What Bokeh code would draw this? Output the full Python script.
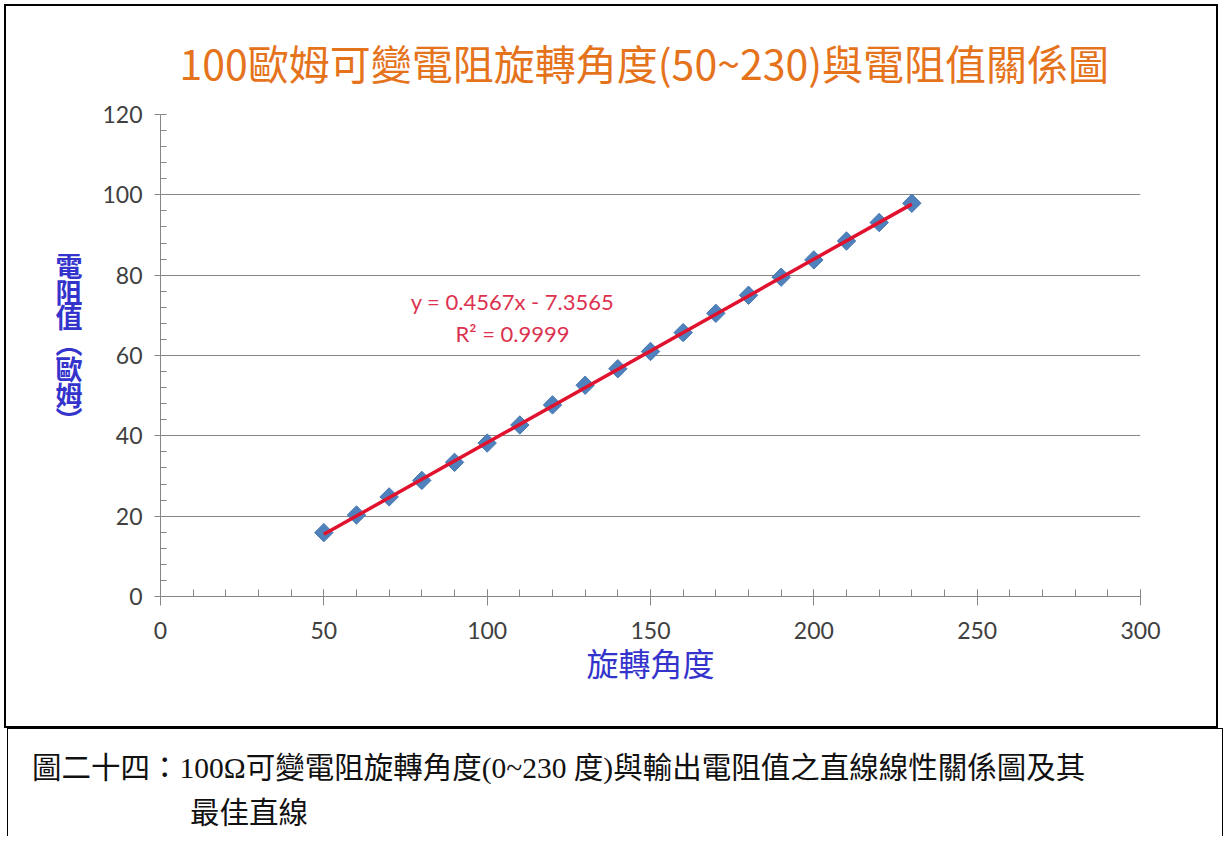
from bokeh.plotting import figure
from bokeh.models import Range1d, Label, SingleIntervalTicker, Div
from bokeh.layouts import column
from bokeh.embed import file_html
from bokeh.resources import INLINE
import numpy as np

# ---------------- data ----------------
title_text = "100歐姆可變電阻旋轉角度(50~230)與電阻值關係圖"
x_label = "旋轉角度"
y_label_chars = ["電", "阻", "值", "︵", "歐", "姆", "︶"]
angle = [50, 60, 70, 80, 90, 100, 110, 120, 130, 140,
         150, 160, 170, 180, 190, 200, 210, 220, 230]
resistance = [15.9, 20.3, 24.8, 28.9, 33.4, 38.2, 42.7, 47.7, 52.6, 56.7,
              61.0, 65.7, 70.5, 75.0, 79.5, 83.8, 88.5, 93.1, 97.9]
slope = 0.4567
intercept = -7.3565
r_squared = 0.9999
x_tick_step = 50
y_tick_step = 20
caption_line1 = "圖二十四：100Ω可變電阻旋轉角度(0~230 度)與輸出電阻值之直線線性關係圖及其"
caption_line2 = "最佳直線"

CJK = "Noto Sans CJK TC"
LAT = "Lato"
GRID = "#868686"
BLUE = "#3434CC"

# ---------------- chart ----------------
p = figure(width=1214, height=724, x_range=Range1d(0, 300), y_range=Range1d(0, 120),
           output_backend="svg", toolbar_location=None,
           min_border_left=154, min_border_right=80,
           min_border_top=108, min_border_bottom=134)
p.outline_line_color = None
p.background_fill_color = "white"
p.border_fill_color = "white"
p.margin = (4, 0, 0, 4)
p.styles = {"border": "2px solid #000000"}

p.title.text = title_text
p.title.align = "left"
p.title.offset = 19
p.title.vertical_align = "middle"
p.title.text_font = CJK
p.title.text_font_size = "41px"
p.title.text_font_style = "normal"
p.title.text_color = "#E5731C"
p.title.standoff = 44

p.xaxis.ticker = SingleIntervalTicker(interval=x_tick_step, num_minor_ticks=5)
p.yaxis.ticker = SingleIntervalTicker(interval=y_tick_step, num_minor_ticks=5)
p.xgrid.visible = False
p.ygrid.grid_line_color = GRID
p.ygrid.grid_line_width = 1

for ax in (p.xaxis, p.yaxis):
    ax.axis_line_color = GRID
    ax.major_tick_line_color = GRID
    ax.minor_tick_line_color = GRID
    ax.major_label_text_font = LAT
    ax.major_label_text_font_size = "23px"
    ax.major_label_text_color = "#404040"

p.xaxis.major_tick_in = 7
p.xaxis.major_tick_out = 9
p.xaxis.minor_tick_in = 7
p.xaxis.minor_tick_out = 0
p.xaxis.major_label_standoff = 16
p.xaxis.axis_label = x_label
p.xaxis.axis_label_text_font = CJK
p.xaxis.axis_label_text_font_size = "32px"
p.xaxis.axis_label_text_font_style = "normal"
p.xaxis.axis_label_text_color = BLUE
p.xaxis.axis_label_standoff = -3

p.yaxis.major_tick_in = 0
p.yaxis.major_tick_out = 6
p.yaxis.minor_tick_in = 6
p.yaxis.minor_tick_out = 0
p.yaxis.major_label_standoff = 12
# stacked vertical label; the trailing ideographic space lifts the block slightly
p.yaxis.axis_label = "\n".join(y_label_chars + ["\u3000"])
p.yaxis.axis_label_orientation = "horizontal"
p.yaxis.axis_label_text_font = CJK
p.yaxis.axis_label_text_font_size = "27px"
p.yaxis.axis_label_text_font_style = "bold"
p.yaxis.axis_label_text_color = BLUE
p.yaxis.axis_label_text_line_height = 0.66
p.yaxis.axis_label_standoff = 17

# data markers
p.scatter(angle, resistance, marker="square", size=13, angle=np.pi / 4,
          fill_color="#4F81BD", line_color="#4577B0", line_width=1)

# linear trendline
xl = np.array([min(angle), max(angle)], dtype=float)
p.line(xl, slope * xl + intercept, line_color="#E0122E", line_width=3.5)

# trendline equation
sign = "-" if intercept < 0 else "+"
eq_text = f"y = {slope:.4f}x {sign} {abs(intercept):.4f}"
r2_text = f"R² = {r_squared:.4f}"
p.add_layout(Label(x=352, y=295, x_units="screen", y_units="screen", text=eq_text,
                   text_font=LAT, text_font_size="22px", text_color="#DC3250",
                   text_align="center", text_baseline="middle"))
p.add_layout(Label(x=352, y=263, x_units="screen", y_units="screen", text=r2_text,
                   text_font=LAT, text_font_size="22px", text_color="#DC3250",
                   text_align="center", text_baseline="middle"))

# ---------------- caption ----------------
cap_html = (
    '<div style="font-family: \'Liberation Serif\', \'Noto Sans CJK TC\', serif; '
    'font-size: 29.5px; line-height: 45px; color: #111111; '
    'padding-left: 24px; padding-top: 17px; white-space: nowrap;">'
    f'{caption_line1}<br><span style="padding-left: 158px;">{caption_line2}</span></div>'
)
c = Div(text=cap_html, width=1216, height=108, margin=(0, 0, 0, 7),
        styles={"border-left": "1px solid #000000", "border-right": "1px solid #000000",
                "border-top": "1px solid #000000", "box-sizing": "border-box"})

layout = column(p, c, spacing=0)
open("out.html", "w").write(file_html(layout, INLINE))
